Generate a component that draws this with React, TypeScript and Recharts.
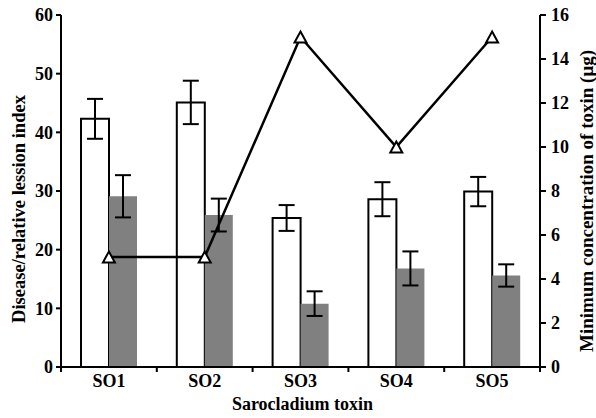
import React from 'react';
import { ComposedChart, Bar, Line, XAxis, YAxis, ErrorBar } from 'recharts';

const categories = ['SO1', 'SO2', 'SO3', 'SO4', 'SO5'];
const diseaseIndex = [42.3, 45.1, 25.4, 28.6, 29.9];
const diseaseErr = [3.4, 3.7, 2.2, 2.9, 2.5];
const relativeIndex = [29.1, 25.9, 10.8, 16.8, 15.6];
const relativeErr = [3.6, 2.8, 2.1, 2.9, 1.9];
const minConcentration = [5, 5, 15, 10, 15];
const leftTicks = [0, 10, 20, 30, 40, 50, 60];
const rightTicks = [0, 2, 4, 6, 8, 10, 12, 14, 16];

const data = categories.map((name, i) => ({
  name,
  disease: diseaseIndex[i],
  diseaseErr: diseaseErr[i],
  relative: relativeIndex[i],
  relativeErr: relativeErr[i],
  conc: minConcentration[i],
}));

const W = 596;
const H = 418;
const LEFT_W = 61;
const RIGHT_W = 56;
const BAND = (W - LEFT_W - RIGHT_W) / categories.length;
const FONT = '"Liberation Serif", "Times New Roman", serif';

const CategoryTick = (props: any) => {
  const { x, y, payload, index } = props;
  const left = x - BAND / 2;
  const right = x + BAND / 2;
  return (
    <g>
      <line x1={left} y1={y - 1} x2={left} y2={y + 5} stroke="#000" strokeWidth={2} />
      {index === categories.length - 1 && (
        <line x1={right} y1={y - 1} x2={right} y2={y + 5} stroke="#000" strokeWidth={2} />
      )}
      <text x={x} y={y + 20} textAnchor="middle" fontFamily={FONT} fontSize={18} fontWeight="bold" fill="#000">
        {payload.value}
      </text>
    </g>
  );
};

const TriangleDot = (props: any) => {
  const { cx, cy, index } = props;
  if (cx == null || cy == null) return <g key={`d-${index}`} />;
  const d = `M${cx},${cy - 5.5} L${cx + 6},${cy + 5.5} L${cx - 6},${cy + 5.5} Z`;
  return <path key={`d-${index}`} d={d} fill="#fff" stroke="#000" strokeWidth={2} strokeLinejoin="miter" />;
};

const tickStyle = { fontFamily: FONT, fontSize: 18, fontWeight: 'bold' as const, fill: '#000' };

const XTitle = (props: any) => {
  const { viewBox } = props;
  return (
    <text x={viewBox.x + viewBox.width / 2 + 2} y={viewBox.y + 43} textAnchor="middle" fontFamily={FONT} fontSize={18} fontWeight="bold" fill="#000">
      Sarocladium toxin
    </text>
  );
};

const LeftTitle = (props: any) => {
  const { viewBox } = props;
  const x = viewBox.x + 25;
  const y = viewBox.y + viewBox.height / 2 + 18;
  return (
    <text x={x} y={y} transform={`rotate(-90, ${x}, ${y})`} textAnchor="middle" fontFamily={FONT} fontSize={18.5} fontWeight="bold" fill="#000">
      Disease/relative lession index
    </text>
  );
};

const RightTitle = (props: any) => {
  const { viewBox } = props;
  const x = viewBox.x + 53;
  const y = viewBox.y + viewBox.height / 2 + 10;
  return (
    <text x={x} y={y} transform={`rotate(-90, ${x}, ${y})`} textAnchor="middle" fontFamily={FONT} fontSize={19} fontWeight="bold" fill="#000">
      Minimum concentration of toxin (μg)
    </text>
  );
};

export default function App() {
  return (
    <div style={{ position: 'absolute', left: 0, top: 0, width: W, height: H, background: '#fff' }}>
      <ComposedChart
        width={W}
        height={H}
        data={data}
        margin={{ top: 15, right: 0, bottom: 0, left: 0 }}
        barGap={0}
      >
        <XAxis
          dataKey="name"
          height={51}
          axisLine={{ stroke: '#000', strokeWidth: 2 }}
          tickLine={false}
          tickSize={0}
          tickMargin={0}
          tick={<CategoryTick />}
          interval={0}
          label={<XTitle />}
        />
        <YAxis
          yAxisId="left"
          width={LEFT_W}
          domain={[0, 60]}
          ticks={leftTicks}
          interval={0}
          axisLine={{ stroke: '#000', strokeWidth: 2 }}
          tickLine={{ stroke: '#000', strokeWidth: 2 }}
          tickSize={5}
          tickMargin={3}
          tick={tickStyle}
          label={<LeftTitle />}
        />
        <YAxis
          yAxisId="right"
          orientation="right"
          width={RIGHT_W}
          domain={[0, 16]}
          ticks={rightTicks}
          interval={0}
          axisLine={{ stroke: '#000', strokeWidth: 2 }}
          tickLine={{ stroke: '#000', strokeWidth: 2 }}
          tickSize={6}
          tickMargin={5}
          tick={tickStyle}
          label={<RightTitle />}
        />
        <Bar yAxisId="left" dataKey="disease" barSize={28} fill="#fff" stroke="#000" strokeWidth={2} isAnimationActive={false}>
          <ErrorBar dataKey="diseaseErr" width={8} stroke="#000" strokeWidth={2} />
        </Bar>
        <Bar yAxisId="left" dataKey="relative" barSize={28} fill="#808080" isAnimationActive={false}>
          <ErrorBar dataKey="relativeErr" width={8} stroke="#000" strokeWidth={2} />
        </Bar>
        <Line
          yAxisId="right"
          dataKey="conc"
          type="linear"
          stroke="#000"
          strokeWidth={2.5}
          dot={TriangleDot}
          activeDot={false}
          isAnimationActive={false}
        />
      </ComposedChart>
    </div>
  );
}
